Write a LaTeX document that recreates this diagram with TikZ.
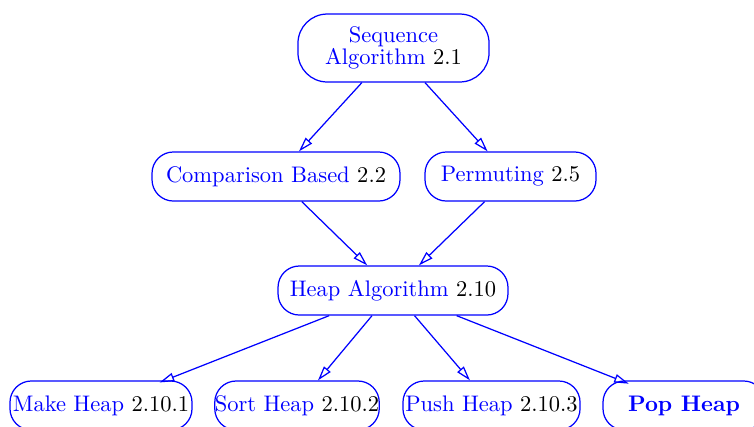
\documentclass[tikz,border=0pt]{standalone}
\usetikzlibrary{arrows.meta}
\begin{document}
\begin{tikzpicture}[x=0.4444pt,y=-0.4444pt,
  box/.style={draw=blue, rounded corners=9.5pt, minimum height=21.8pt, inner xsep=0pt, inner ysep=0pt, line width=0.55pt, align=center},
  conn/.style={draw=blue, line width=0.55pt, -{Triangle[open,length=6.5pt,width=3.8pt]}},
  ]
\newcommand\bn[1]{\textcolor{blue}{#1}}
\useasboundingbox (0,0) rectangle (754,426);
\clip (0,0) rectangle (754,426);
\node[box, minimum width=84.9pt, minimum height=30.2pt, rounded corners=13pt] (seq) at (393.5,48) {\bn{Sequence}\\[-2.4pt]\bn{Algorithm} 2.1};
\node[box, minimum width=110.2pt] (cmp) at (276,176.5) {\bn{Comparison Based} 2.2};
\node[box, minimum width=76pt] (perm) at (510.5,176.5) {\bn{Permuting} 2.5};
\node[box, minimum width=102.2pt] (heap) at (393,290.5) {\bn{Heap Algorithm} 2.10};
\node[box, minimum width=80.9pt] (make) at (101,405.5) {\bn{Make Heap} 2.10.1};
\node[box, minimum width=72.9pt] (sort) at (297,405.5) {\bn{Sort Heap} 2.10.2};
\node[box, minimum width=78.7pt] (push) at (491.5,405.5) {\bn{Push Heap} 2.10.3};
\node[box, minimum width=72pt] (pop) at (684,405.5) {\bn{\textbf{Pop Heap}}};
\draw[conn] (seq) -- (cmp);
\draw[conn] (seq) -- (perm);
\draw[conn] (cmp) -- (heap);
\draw[conn] (perm) -- (heap);
\draw[conn, shorten >=-2.5pt] (heap) -- (make);
\draw[conn] (heap) -- (sort);
\draw[conn] (heap) -- (push);
\draw[conn, shorten >=-4pt] (heap) -- (pop);
\end{tikzpicture}
\end{document}
